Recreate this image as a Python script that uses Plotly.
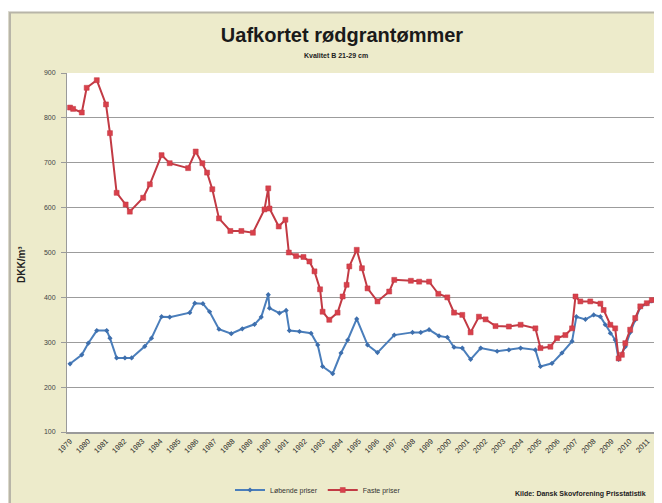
import plotly.graph_objects as go

# ---- data ----
red_years = [1979.00, 1979.17, 1979.65, 1979.92, 1980.48, 1980.99, 1981.21, 1981.58, 1982.08, 1982.31,
             1983.05, 1983.42, 1984.07, 1984.52, 1985.54, 1985.96, 1986.33, 1986.59, 1986.88, 1987.25,
             1987.88, 1988.49, 1989.13, 1989.77, 1989.98, 1990.05, 1990.56, 1990.93, 1991.12, 1991.52,
             1991.93, 1992.26, 1992.54, 1992.85, 1992.99, 1993.36, 1993.82, 1994.10, 1994.32, 1994.47,
             1994.88, 1995.17, 1995.48, 1996.03, 1996.68, 1996.96, 1997.88, 1998.34, 1998.89, 1999.40,
             1999.90, 2000.27, 2000.73, 2001.19, 2001.65, 2002.02, 2002.57, 2003.31, 2003.96, 2004.78,
             2005.06, 2005.61, 2005.98, 2006.44, 2006.81, 2007.00, 2007.27, 2007.82, 2008.38, 2008.56,
             2008.93, 2009.20, 2009.39, 2009.57, 2009.76, 2010.03, 2010.31, 2010.59, 2010.95, 2011.23,
             2011.41]
red_values = [823, 820, 812, 867, 884, 830, 766, 633, 607, 591,
              622, 652, 717, 699, 688, 725, 699, 678, 641, 576,
              548, 548, 544, 596, 643, 598, 558, 573, 500, 492,
              490, 480, 458, 418, 368, 350, 366, 402, 428, 469,
              506, 465, 420, 391, 413, 439, 437, 435, 435, 408,
              400, 366, 361, 322, 357, 351, 336, 335, 339, 331,
              287, 290, 309, 316, 331, 402, 391, 391, 386, 372,
              339, 331, 264, 272, 298, 328, 354, 380, 387, 394,
              396]

blue_years = [1979.00, 1979.65, 1980.01, 1980.48, 1981.03, 1981.21, 1981.58, 1982.04, 1982.41, 1983.14,
              1983.51, 1984.07, 1984.52, 1985.63, 1985.91, 1986.36, 1986.73, 1987.25, 1987.93, 1988.54,
              1989.22, 1989.59, 1989.98, 1990.05, 1990.60, 1990.97, 1991.15, 1991.71, 1992.35, 1992.72,
              1992.99, 1993.55, 1994.01, 1994.38, 1994.88, 1995.48, 1996.03, 1996.96, 1997.97, 1998.43,
              1998.89, 1999.44, 1999.90, 2000.27, 2000.73, 2001.19, 2001.75, 2002.66, 2003.31, 2003.96,
              2004.78, 2005.06, 2005.70, 2006.25, 2006.81, 2007.05, 2007.55, 2008.01, 2008.38, 2008.65,
              2008.93, 2009.20, 2009.39, 2009.76, 2010.03, 2010.31, 2010.59, 2010.95, 2011.23, 2011.41]
blue_values = [252, 272, 298, 326, 326, 309, 265, 265, 265, 291,
               309, 357, 356, 366, 387, 386, 368, 329, 319, 330,
               340, 356, 406, 376, 365, 371, 326, 324, 320, 294,
               246, 230, 276, 305, 352, 294, 277, 316, 322, 322,
               328, 314, 311, 289, 287, 262, 287, 280, 283, 287,
               283, 246, 253, 276, 302, 357, 351, 361, 357, 339,
               320, 305, 262, 290, 322, 350, 378, 386, 392, 394]

tick_years = list(range(1979, 2012))
tick_labels = [str(y) for y in tick_years]
y_ticks = [100, 200, 300, 400, 500, 600, 700, 800, 900]

# ---- layout geometry (page pixels; the page body adds an 8px offset) ----
PAGE_W, PAGE_H = 662, 503
OFF = 8
W, H = PAGE_W - OFF, PAGE_H - OFF
L, R, T, B = 67, 654, 73, 432
pw, ph = R - L, B - T


def px(x):
    return (x - L) / pw


def py(y):
    return (B - y) / ph


fig = go.Figure()
fig.add_trace(go.Scatter(
    x=blue_years, y=blue_values, mode="lines+markers", name="Løbende priser",
    line=dict(color="#4A7EBB", width=2),
    marker=dict(symbol="diamond", size=4, color="#3E6FAD"),
    cliponaxis=False,
))
fig.add_trace(go.Scatter(
    x=red_years, y=red_values, mode="lines+markers", name="Faste priser",
    line=dict(color="#C23A44", width=2),
    marker=dict(symbol="square", size=5, color="#D8404B", line=dict(color="#C23A44", width=0.5)),
    cliponaxis=False,
))

beige = "#EDEBCB"
shapes = [
    dict(type="rect", xref="paper", yref="paper", x0=px(-5), x1=px(PAGE_W + 5), y0=py(12), y1=py(-5),
         fillcolor="white", line=dict(width=0), layer="above"),
    dict(type="line", xref="paper", yref="paper", x0=px(0), x1=px(PAGE_W + 5), y0=py(12.5), y1=py(12.5),
         line=dict(color="#B8B5A8", width=2), layer="above"),
    dict(type="rect", xref="paper", yref="paper", x0=px(-5), x1=px(9), y0=py(PAGE_H + 5), y1=py(12),
         fillcolor="#DAD8CA", line=dict(width=0), layer="above"),
    dict(type="line", xref="paper", yref="paper", x0=px(10), x1=px(10), y0=py(PAGE_H + 5), y1=py(12),
         line=dict(color="#B8B5A8", width=2), layer="above"),
]

annotations = [
    dict(text="<b>Kvalitet B 21-29 cm</b>", xref="paper", yref="paper", x=px(336), y=py(55),
         showarrow=False, font=dict(size=7, color="#222", family="Liberation Sans"), xanchor="center", yanchor="middle"),
    dict(text="<b>DKK/m³</b>", xref="paper", yref="paper", x=px(21), y=py(265), textangle=-90,
         showarrow=False, font=dict(size=10, color="#222", family="Liberation Sans"), xanchor="center", yanchor="middle"),
    dict(text="<b>Kilde: Dansk Skovforening Prisstatistik</b>", xref="paper", yref="paper", x=px(513), y=py(494),
         showarrow=False, font=dict(size=7, color="#222", family="Liberation Sans"), xanchor="left", yanchor="middle"),
]

fig.update_layout(
    width=W, height=H,
    margin=dict(l=L - OFF, r=PAGE_W - R, t=T - OFF, b=PAGE_H - B, pad=0, autoexpand=False),
    paper_bgcolor=beige, plot_bgcolor="white",
    title=dict(text="<b>Uafkortet rødgrantømmer</b>", x=(342 - OFF) / W, xanchor="center",
               y=1 - (35 - OFF) / H, yanchor="middle", xref="container", yref="container",
               font=dict(size=20, color="#1A1A1A", family="Liberation Sans")),
    font=dict(family="Liberation Sans", color="#333"),
    showlegend=True,
    legend=dict(orientation="h", xref="container", yref="container", x=(318 - OFF) / W, y=1 - (490 - OFF) / H,
                xanchor="center", yanchor="middle",
                bgcolor="rgba(0,0,0,0)", font=dict(size=7, color="#333"), itemwidth=30,
                tracegroupgap=0),
    shapes=shapes,
    annotations=annotations,
)
fig.update_xaxes(
    range=[1978.83, 2011.35], tickmode="array", tickvals=tick_years, ticktext=tick_labels,
    tickangle=-45, tickfont=dict(size=7.5, color="#2A2A2A", family="Liberation Sans"),
    showgrid=False, showline=True, linecolor="#9A9A9A", linewidth=2, ticks="", zeroline=False,
    automargin=False,
)
fig.update_yaxes(
    range=[100, 900], tickmode="array", tickvals=y_ticks,
    tickfont=dict(size=7, color="#444", family="Liberation Sans"),
    showgrid=True, gridcolor="#9C9C9C", gridwidth=1, showline=True, linecolor="#9A9A9A", linewidth=1,
    ticks="outside", ticklen=5, tickcolor="#9A9A9A", ticklabelstandoff=4, zeroline=False,
    automargin=False,
)

fig.write_html("out.html")
